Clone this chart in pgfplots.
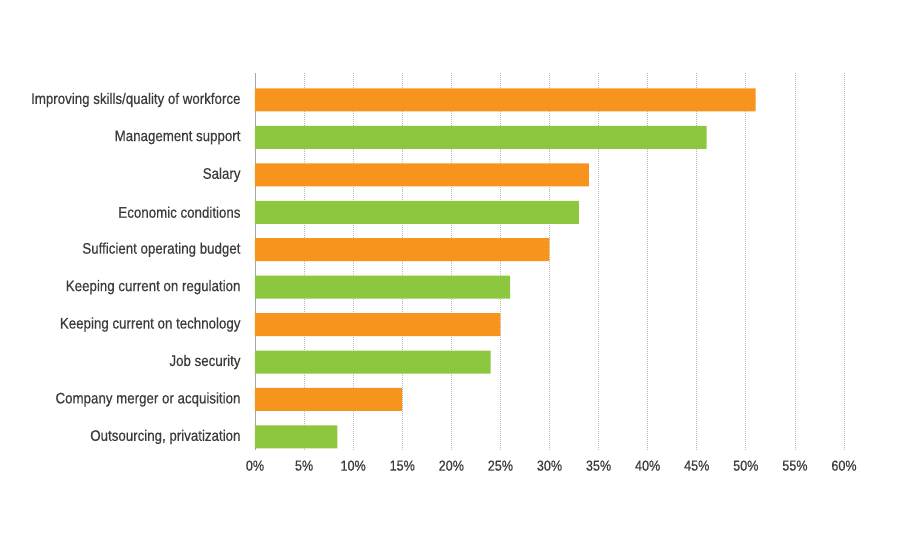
\documentclass[border=0pt]{standalone}
\usepackage{pgfplots}
\pgfplotsset{compat=1.18}
\usepackage{fontspec}
\setmainfont[FakeStretch=0.87,FakeBold=0.5]{Liberation Sans}
\definecolor{barorange}{HTML}{F7941D}
\definecolor{bargreen}{HTML}{8DC63F}
\definecolor{txt}{HTML}{3C3C3C}
\begin{document}
\begin{tikzpicture}
\begin{axis}[
  name=ax,
  scale only axis,
  width=589bp, height=377bp,
  xmin=0, xmax=60,
  ymin=-0.72, ymax=9.35,
  y dir=reverse,
  xtick={0,5,...,60},
  xticklabel={\pgfmathprintnumber{\tick}\%},
  /pgf/number format/assume math mode=true,
  ytick={0,...,9},
  yticklabels={Improving skills/quality of workforce, Management support, Salary, Economic conditions, Sufficient operating budget, Keeping current on regulation, Keeping current on technology, Job security, Company merger or acquisition, {Outsourcing, privatization}},
  yticklabel style={font=\fontsize{15.3bp}{17bp}\selectfont, text=txt, xshift=-11bp},
  xticklabel style={font=\fontsize{14.5bp}{16bp}\selectfont, text=txt, yshift=-7bp},
  major tick length=0pt,
  axis x line*=bottom,
  x axis line style={draw=none},
  axis y line*=left,
  y axis line style={draw=gray!70, line width=0.8bp, -},
  xmajorgrids,
  grid style={gray!55, dash pattern=on 0.8bp off 1.2bp, line width=0.7bp},
  xbar, bar width=23bp, bar shift=0pt,
  clip=false,
]
\addplot[fill=barorange, draw=none] coordinates {(51,0) (34,2) (30,4) (25,6) (15,8)};
\addplot[fill=bargreen, draw=none] coordinates {(46,1) (33,3) (26,5) (24,7) (8.4,9)};
\coordinate (a) at (axis cs:0,9.35);
\end{axis}
\path (a) ++(-255bp,-100bp) rectangle ++(900bp,550bp);
\end{tikzpicture}
\end{document}
